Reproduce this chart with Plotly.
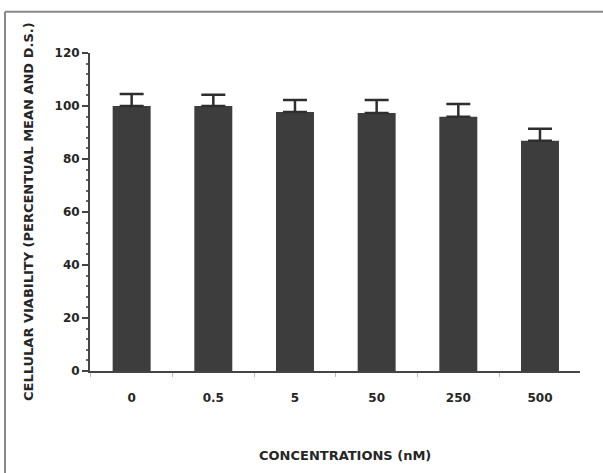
import plotly.graph_objects as go

categories = ["0", "0.5", "5", "50", "250", "500"]
viability_mean = [100.0, 100.0, 97.7, 97.4, 95.9, 86.9]
viability_sd = [4.5, 4.2, 4.6, 4.9, 4.9, 4.5]
y_ticks = [0, 20, 40, 60, 80, 100, 120]

FONT = "DejaVu Sans, Arial, sans-serif"
BAR = "#3d3d3d"
TXT = "#262626"

fig = go.Figure()
fig.add_trace(go.Bar(
    x=categories,
    y=viability_mean,
    marker=dict(color=BAR, line=dict(width=0)),
    error_y=dict(type="data", array=viability_sd, arrayminus=[0] * len(viability_sd),
                 symmetric=False, color="#2e2e2e", thickness=2.5, width=12),
))

fig.update_layout(
    width=603, height=473,
    margin=dict(l=90, r=23, t=53, b=102, autoexpand=False),
    paper_bgcolor="white", plot_bgcolor="white",
    bargap=0.535,
    showlegend=False,
    font=dict(family=FONT, size=12, color=TXT),
    xaxis=dict(
        type="category", range=[-0.51, 5.49],
        showline=True, linecolor="#444444", linewidth=2,
        ticks="outside", tickson="boundaries", ticklen=4, tickcolor="#bbbbbb",
        ticklabelstandoff=15,
        tickfont=dict(family=FONT, size=12, color=TXT, weight="bold"),
        showgrid=False, zeroline=False,
    ),
    yaxis=dict(
        range=[0, 120], tickvals=y_ticks,
        showline=True, linecolor="#444444", linewidth=2,
        ticks="outside", ticklen=6, tickwidth=2, tickcolor="#444444",
        minor=dict(dtick=4, ticks="outside", ticklen=2, tickcolor="#666666"),
        tickfont=dict(family=FONT, size=12, color=TXT, weight="bold"),
        showgrid=False, zeroline=False,
    ),
    annotations=[
        dict(text="CELLULAR VIABILITY (PERCENTUAL MEAN AND D.S.)",
             xref="paper", yref="paper", x=0, y=0.5, xshift=-62,
             textangle=-90, showarrow=False, xanchor="center", yanchor="middle",
             font=dict(family=FONT, size=13, color=TXT, weight="bold")),
        dict(text="CONCENTRATIONS (nM)",
             xref="paper", yref="paper", x=0.52, y=0, yshift=-84,
             showarrow=False, xanchor="center", yanchor="middle",
             font=dict(family=FONT, size=13, color=TXT, weight="bold")),
    ],
    shapes=[
        dict(type="line", xref="paper", yref="paper", x0=-0.1735, x1=1.05, y0=1.13, y1=1.13,
             line=dict(color="#888888", width=2)),
        dict(type="line", xref="paper", yref="paper", x0=-0.1735, x1=-0.1735, y0=1.13, y1=-0.33,
             line=dict(color="#888888", width=2)),
    ],
)

fig.write_html("out.html", config={"displayModeBar": False},
               post_script="document.body.style.margin='0';")
